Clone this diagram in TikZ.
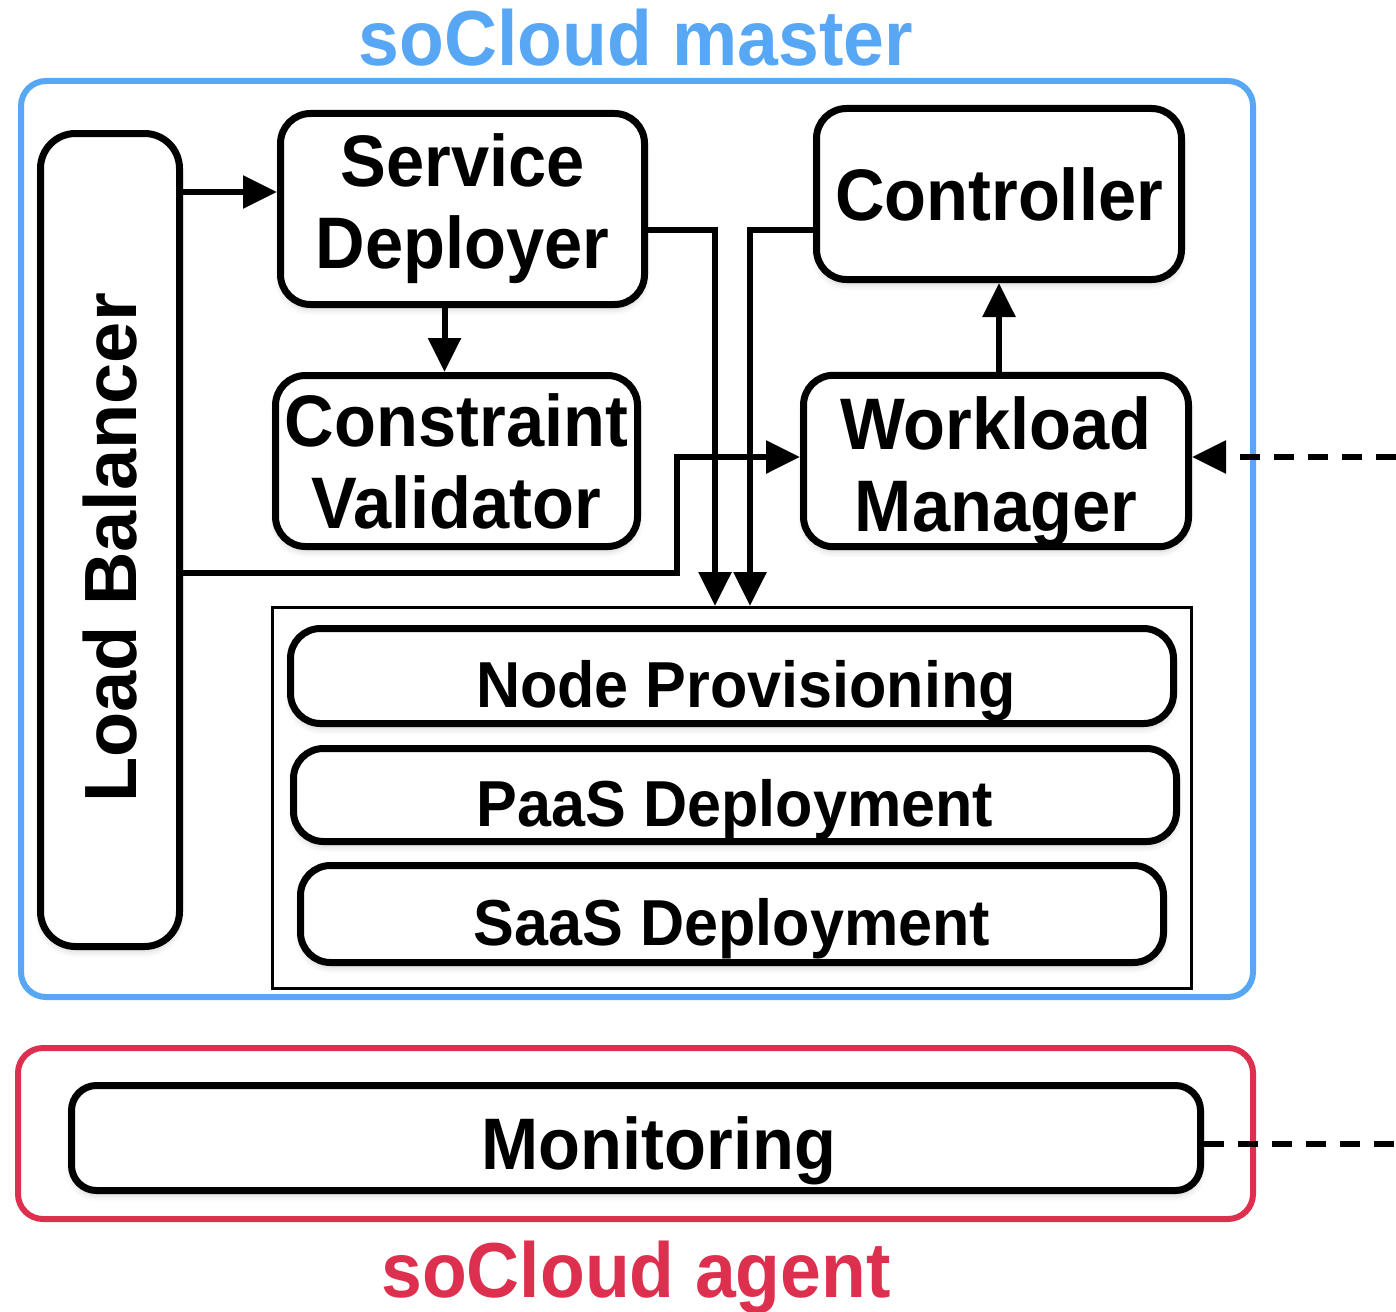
\documentclass[tikz,border=0pt]{standalone}
\usepackage{fontspec}
\setmainfont{Liberation Sans}[FakeStretch=0.94]
\newfontfamily\lbfont{Liberation Sans}
\usetikzlibrary{arrows.meta,positioning,shadows.blur}
\definecolor{masterblue}{RGB}{87,167,245}
\definecolor{agentred}{RGB}{221,47,78}
\tikzset{
  blk/.style={rectangle,rounded corners=#1,draw=black,line width=7pt,fill=white,
              align=center,inner sep=0pt,font=\fontsize{73}{82}\selectfont\bfseries,
              blur shadow={shadow xshift=0pt,shadow yshift=-5pt,
                           shadow blur radius=6pt,shadow opacity=18}},
  blk/.default=30pt,
  layer/.style={blk=30pt,font=\fontsize{65}{70}\selectfont\bfseries,
                text height=62pt,text depth=0pt},
  grp/.style={rectangle,rounded corners=25pt,draw=#1,line width=6pt,inner sep=0pt},
  lbl/.style={text=#1,inner sep=0pt,font=\fontsize{78}{80}\selectfont\bfseries},
  arr/.style={-{Triangle[length=34pt,width=32pt]},line width=6pt,color=black},
  dasharr/.style={arr,dash pattern=on 20pt off 14pt},
}
\begin{document}
\begin{tikzpicture}[x=1pt,y=-1pt]
  \useasboundingbox (0,0) rectangle (1396,1311);

  % --- groups ---
  \node[grp=masterblue, minimum width=1232pt, minimum height=916pt] (master) at (637,539) {};
  \node[grp=agentred, minimum width=1235pt, minimum height=171pt] (agent) at (635.5,1133.5) {};
  \node[lbl=masterblue, anchor=base] (mastertxt) at (636,66) {soCloud master};
  \node[lbl=agentred, anchor=base] (agenttxt) at (636,1297) {soCloud agent};

  % --- master components ---
  \node[blk=35pt, minimum width=139pt, minimum height=813pt] (lb) at (110,540) {};
  \node[rotate=90, inner sep=0pt, font=\lbfont\fontsize{74}{80}\selectfont\bfseries]
    (lbtxt) at ([yshift=-8pt]lb.center) {Load Balancer};

  \node[blk, minimum width=364pt, minimum height=191pt] (sd) at (462.5,209) {Service\\Deployer};
  \node[blk, minimum width=362pt, minimum height=171pt] (cv) at (456.5,461) {Constraint\\Validator};
  \node[blk, minimum width=365pt, minimum height=171pt] (ctrl) at (999,194) {Controller};
  \node[blk, minimum width=385pt, minimum height=171pt] (wm) at (996,461) {\\[-8pt]Workload\\Manager};

  % --- deployment layers ---
  \node[draw, line width=3pt, inner sep=0pt, minimum width=919pt, minimum height=381pt]
    (frame) at (732,798) {};
  \node[layer, minimum width=883pt, minimum height=95pt] (np) at (732,676) {\hspace*{28pt}Node Provisioning};
  \node[layer, minimum width=883pt, minimum height=93pt] (paas) at (735,795) {PaaS Deployment};
  \node[layer, minimum width=863pt, minimum height=97pt] (saas) at (732,914) {SaaS Deployment};

  % --- agent ---
  \node[blk=25pt, minimum width=1129pt, minimum height=105pt, text height=62pt, text depth=0pt]
    (mon) at (636,1138) {\hspace*{46pt}Monitoring};

  % --- connectors ---
  \coordinate (lbbend) at (677,457);
  \coordinate (wmin) at (1396,457);
  \coordinate (monout) at (1396,1144);

  \draw[arr] ([yshift=17pt]lb.east |- sd.west) -- ([yshift=17pt]sd.west);
  \draw[arr] ([xshift=-18pt]sd.south) -- ([xshift=-18pt]sd.south |- cv.north);
  \draw[arr] ([yshift=-21pt]sd.east) -| ([xshift=-17pt]frame.north);
  \draw[arr] ([yshift=-36pt]ctrl.west) -| ([xshift=18pt]frame.north);
  \draw[arr] ([yshift=-33pt]lb.east) -| (lbbend) -- (wm.west |- lbbend);
  \draw[arr] (ctrl.south |- wm.north) -- (ctrl.south);
  \draw[dasharr] (wmin) -- (wm.east |- wmin);
  \draw[line width=6pt, dash pattern=on 20pt off 14pt] (mon.east |- monout) -- (monout);
\end{tikzpicture}
\end{document}
